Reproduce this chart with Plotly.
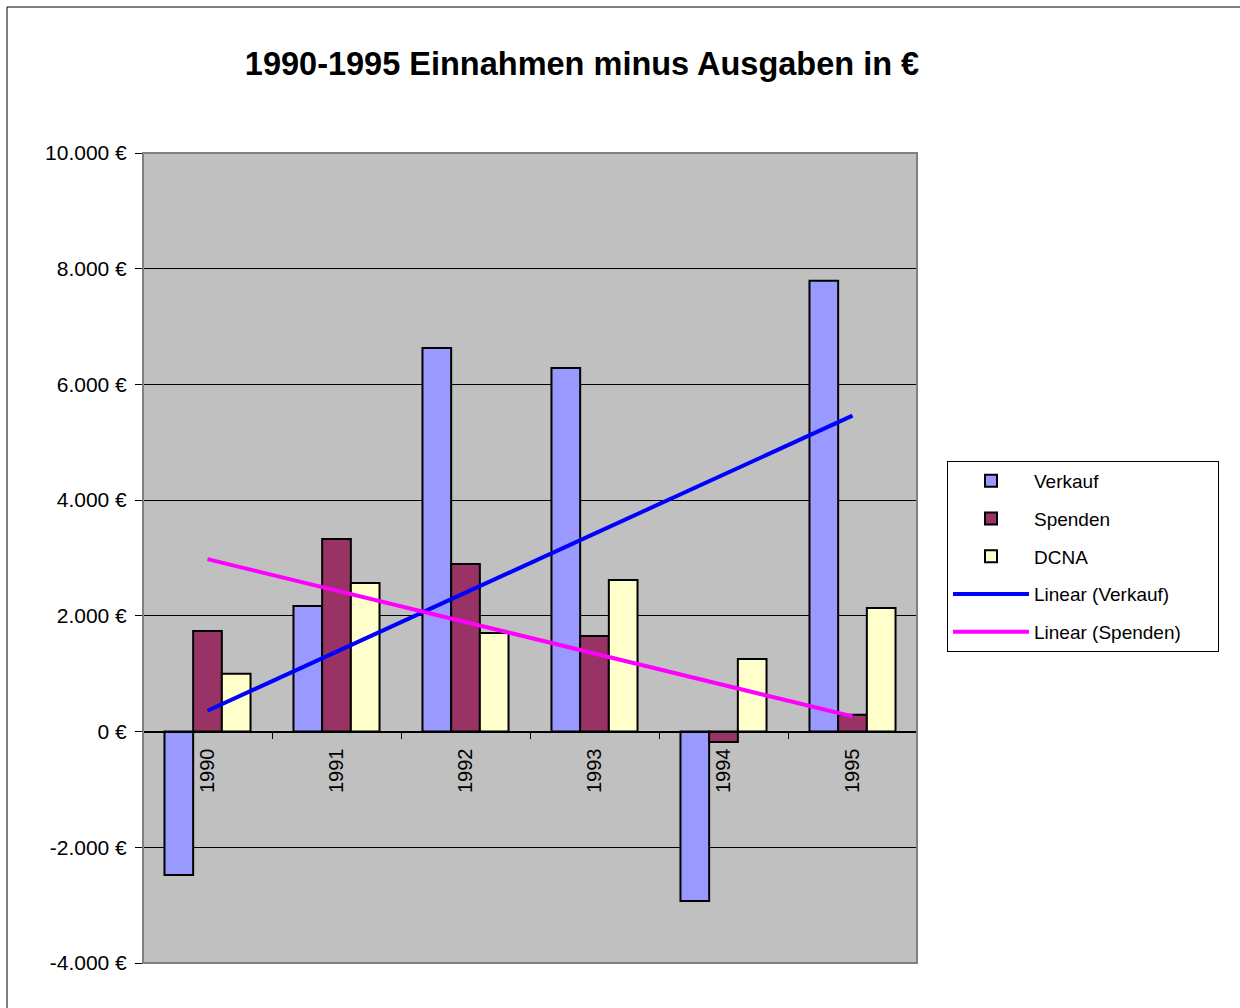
import numpy as np
import plotly.graph_objects as go

years = ["1990", "1991", "1992", "1993", "1994", "1995"]
verkauf = [-2480, 2170, 6630, 6285, -2930, 7790]
spenden = [1740, 3330, 2895, 1650, -180, 290]
dcna = [1000, 2570, 1705, 2620, 1255, 2135]

y_tickvals = [-4000, -2000, 0, 2000, 4000, 6000, 8000, 10000]
y_ticktext = ["-4.000 €", "-2.000 €", "0 €", "2.000 €", "4.000 €", "6.000 €", "8.000 €", "10.000 €"]

W, H = 1240, 1008
L, R, T, B = 143, 917, 153, 963
ymin, ymax = -4000, 10000

FONT = "Liberation Sans, Arial, sans-serif"

idx = np.arange(len(years))
trend_v = np.polyval(np.polyfit(idx, verkauf, 1), idx)
trend_s = np.polyval(np.polyfit(idx, spenden, 1), idx)

fig = go.Figure()
bar_line = dict(color="black", width=2)
fig.add_trace(go.Bar(name="Verkauf", x=years, y=verkauf, marker=dict(color="#9999FF", line=bar_line), legendgroup="a"))
fig.add_trace(go.Bar(name="Spenden", x=years, y=spenden, marker=dict(color="#993366", line=bar_line), legendgroup="b"))
fig.add_trace(go.Bar(name="DCNA", x=years, y=dcna, marker=dict(color="#FFFFCC", line=bar_line), legendgroup="c"))
fig.add_trace(go.Scatter(name="Linear (Verkauf)", x=years, y=trend_v, mode="lines",
                         line=dict(color="#0000FF", width=4), legendgroup="d"))
fig.add_trace(go.Scatter(name="Linear (Spenden)" + "&nbsp;" * 6, x=years, y=trend_s, mode="lines",
                         line=dict(color="#FF00FF", width=4), legendgroup="e"))

pw, ph = R - L, B - T
def px_x(p):
    return (p - L) / pw
def px_y(p):
    return (B - p) / ph

fig.update_layout(
    width=W, height=H,
    margin=dict(l=L, r=W - R, t=T, b=H - B, pad=0),
    paper_bgcolor="white",
    plot_bgcolor="#C0C0C0",
    barmode="group",
    bargap=0.333,
    bargroupgap=0,
    font=dict(family=FONT, color="black"),
    title=dict(text="<b>1990-1995 Einnahmen minus Ausgaben in €</b>",
               x=(582) / W, xanchor="center", y=1 - 64 / H, yanchor="middle",
               font=dict(size=32.5, family=FONT, color="black")),
    xaxis=dict(
        type="category",
        anchor="free",
        position=(0 - ymin) / (ymax - ymin),
        showline=True, linecolor="black", linewidth=1,
        ticks="outside", ticklen=6, tickcolor="black", tickwidth=1,
        tickson="boundaries",
        tickangle=-90,
        ticklabelstandoff=8,
        tickfont=dict(size=20, family=FONT, color="black"),
        showgrid=False, zeroline=False,
    ),
    yaxis=dict(
        range=[ymin, ymax],
        tickvals=y_tickvals, ticktext=y_ticktext,
        ticks="outside", ticklen=7, tickcolor="black", tickwidth=1,
        ticklabelstandoff=4,
        tickfont=dict(size=21, family=FONT, color="black"),
        showgrid=True, gridcolor="black", gridwidth=1,
        zeroline=False, showline=False,
    ),
    legend=dict(
        x=px_x(947), y=px_y(461), xanchor="left", yanchor="top",
        bordercolor="black", borderwidth=1, bgcolor="white",
        font=dict(size=19, family=FONT, color="black"),
        traceorder="grouped", tracegroupgap=10,
        itemwidth=76,
    ),
    shapes=[
        dict(type="rect", xref="paper", yref="paper", x0=0, x1=1, y0=0, y1=1,
             line=dict(color="#808080", width=2), layer="above"),
        dict(type="rect", xref="paper", yref="paper",
             x0=px_x(7), x1=px_x(1260), y0=px_y(1030), y1=px_y(7),
             line=dict(color="black", width=1), layer="below"),
    ],
)

fig.write_html("out.html", config={"displayModeBar": False},
               post_script="document.body.style.margin='0px';")
